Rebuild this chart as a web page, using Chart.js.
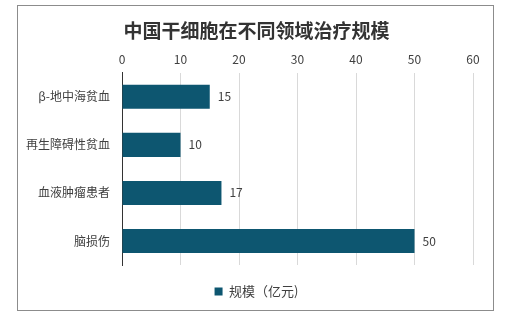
<!DOCTYPE html>
<html>
<head>
<meta charset="utf-8">
<script src="https://cdn.jsdelivr.net/npm/chart.js@4/dist/chart.umd.min.js"></script>
<style>
    body { margin: 0; background: #fff; }
    #frame { position: absolute; left: 17px; top: 5px; width: 475px; height: 304px; border: 1px solid #8c8c8c; }
    #wrap { position: absolute; left: 0; top: 0; width: 519px; height: 318px; }
</style>
</head>
<body>
<div id="frame"></div>
<div id="wrap"><canvas id="chart" width="519" height="318"></canvas></div>
<script>
const categories = ["β-地中海贫血", "再生障碍性贫血", "血液肿瘤患者", "脑损伤"];
const values = [15, 10, 17, 50];
const seriesName = "规模（亿元)";
const titleText = "中国干细胞在不同领域治疗规模";

const FONT = '"Noto Sans CJK SC", "Microsoft YaHei", sans-serif';

// value labels at the end of each bar
const valueLabels = {
    id: 'valueLabels',
    afterDatasetsDraw(chart) {
        const ctx = chart.ctx;
        const meta = chart.getDatasetMeta(0);
        ctx.save();
        ctx.font = '12px ' + FONT;
        ctx.fillStyle = '#404040';
        ctx.textAlign = 'left';
        ctx.textBaseline = 'middle';
        meta.data.forEach((bar, i) => {
            ctx.fillText(values[i], bar.x + 8, bar.y);
        });
        ctx.restore();
    }
};

new Chart(document.getElementById('chart').getContext('2d'), {
    type: 'bar',
    data: {
        labels: categories,
        datasets: [{
            label: seriesName,
            data: values,
            backgroundColor: '#0d5670',
            barPercentage: 0.5,
            categoryPercentage: 1.0
        }]
    },
    options: {
        indexAxis: 'y',
        responsive: false,
        animation: false,
        layout: { padding: { left: 40, right: 46, top: 0, bottom: 10 } },
        scales: {
            x: {
                position: 'top',
                min: 0,
                max: 60,
                ticks: { stepSize: 10, color: '#404040', font: { size: 12, family: FONT }, padding: 6 },
                grid: { color: '#d9d9d9', drawTicks: false },
                border: { display: false },
                afterFit(scale) { scale.height = 31; }
            },
            y: {
                ticks: { color: '#404040', font: { size: 12, family: FONT }, padding: 12 },
                grid: { display: false, drawTicks: false },
                border: { display: true, color: '#333' },
                afterFit(scale) {
                    scale.width = 82;
                    // let the long category labels run into the left padding
                    scale._computeLabelArea = () => undefined;
                }
            }
        },
        plugins: {
            title: {
                display: true,
                text: titleText,
                color: '#333',
                font: { size: 19, weight: 'bold', family: FONT, lineHeight: 1.2 },
                padding: { top: 19, bottom: 0 }
            },
            legend: {
                position: 'bottom',
                labels: {
                    boxWidth: 8,
                    boxHeight: 8,
                    padding: 20,
                    color: '#404040',
                    font: { size: 13, family: FONT }
                }
            },
            tooltip: { enabled: false }
        }
    },
    plugins: [valueLabels]
});
</script>
</body>
</html>
